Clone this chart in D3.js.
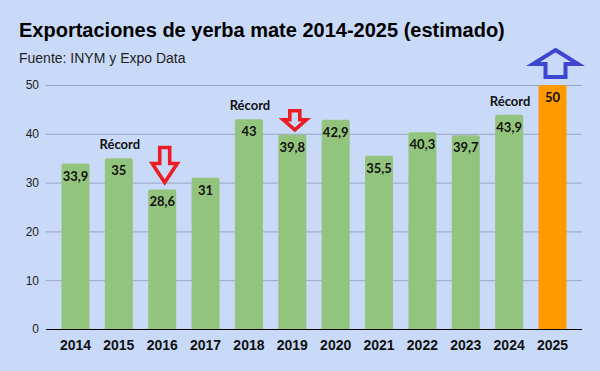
<!DOCTYPE html>
<html>
<head>
<meta charset="utf-8">
<script src="https://cdn.jsdelivr.net/npm/d3@7.9.0/dist/d3.min.js"></script>
<style>
  body { margin: 0; background: #c9daf8; }
  svg { display: block; }
</style>
</head>
<body>
<svg width="600" height="371"></svg>
<script>
const years = ["2014", "2015", "2016", "2017", "2018", "2019", "2020", "2021", "2022", "2023", "2024", "2025"];
const values = [33.9, 35, 28.6, 31, 43, 39.8, 42.9, 35.5, 40.3, 39.7, 43.9, 50];
const estimatedYears = ["2025"];
const recordYears = ["2015", "2018", "2024"];
const dropYears = ["2016", "2019"];
const riseYears = ["2025"];
const yTicks = [0, 10, 20, 30, 40, 50];

const data = years.map((year, i) => ({ year, value: values[i] }));

const svg = d3.select('svg');
const plotLeft = 46, plotRight = 582, plotTop = 85, plotBottom = 329;

svg.append('rect').attr('width', 600).attr('height', 371).attr('fill', '#c9daf8');

const x = d3.scaleBand().domain(years).range([plotLeft, plotRight])
  .paddingInner(0.354).paddingOuter(0.357);
const y = d3.scaleLinear().domain([0, 50]).range([plotBottom, plotTop]);

// title
svg.append('text')
  .attr('x', 19).attr('y', 37)
  .attr('font-family', 'Liberation Sans, Arial, sans-serif')
  .attr('font-size', 20).attr('font-weight', 'bold').attr('fill', '#000')
  .text('Exportaciones de yerba mate 2014-2025 (estimado)');

svg.append('text')
  .attr('x', 19).attr('y', 63)
  .attr('font-family', 'Liberation Sans, Arial, sans-serif')
  .attr('font-size', 14).attr('fill', '#222')
  .text('Fuente: INYM y Expo Data');

// grid + y labels
const yAxis = svg.append('g')
  .attr('transform', `translate(${plotLeft},0)`)
  .call(d3.axisLeft(y).tickValues(yTicks).tickSize(-(plotRight - plotLeft)).tickPadding(7));
yAxis.select('.domain').remove();
yAxis.selectAll('.tick line').attr('stroke', '#98a4c4');
yAxis.selectAll('.tick text')
  .attr('font-family', 'Liberation Sans, Arial, sans-serif')
  .attr('font-size', 12).attr('fill', '#222');

// bars
svg.append('g').selectAll('path')
  .data(data)
  .join('path')
  .attr('fill', d => estimatedYears.includes(d.year) ? '#ff9900' : '#93c47d')
  .attr('d', d => {
    const x0 = x(d.year), w = x.bandwidth(), y0 = y(d.value), r = 2;
    return `M${x0},${plotBottom}V${y0 + r}Q${x0},${y0} ${x0 + r},${y0}H${x0 + w - r}Q${x0 + w},${y0} ${x0 + w},${y0 + r}V${plotBottom}Z`;
  });

// baseline
svg.append('line')
  .attr('x1', plotLeft).attr('x2', plotRight)
  .attr('y1', plotBottom + 0.5).attr('y2', plotBottom + 0.5)
  .attr('stroke', '#000');

// x labels
svg.append('g').selectAll('text')
  .data(years)
  .join('text')
  .attr('x', d => x(d) + x.bandwidth() / 2)
  .attr('y', 350)
  .attr('text-anchor', 'middle')
  .attr('font-family', 'Liberation Sans, Arial, sans-serif')
  .attr('font-size', 14).attr('font-weight', 'bold').attr('fill', '#111')
  .text(d => d);

// value labels
svg.append('g').selectAll('text')
  .data(data)
  .join('text')
  .attr('x', d => x(d.year) + x.bandwidth() / 2)
  .attr('y', d => y(d.value) + 17)
  .attr('text-anchor', 'middle')
  .attr('font-family', 'Lato, sans-serif')
  .attr('font-size', 13).attr('font-weight', 'bold').attr('fill', '#111')
  .text(d => String(d.value).replace('.', ','));

// "Récord" labels
svg.append('g').selectAll('text')
  .data(data.filter(d => recordYears.includes(d.year)))
  .join('text')
  .attr('x', d => x(d.year) + x.bandwidth() / 2 + 1)
  .attr('y', d => y(d.value) - 9)
  .attr('text-anchor', 'middle')
  .attr('font-family', 'Lato, sans-serif')
  .attr('font-size', 13).attr('font-weight', 'bold').attr('fill', '#111')
  .text('Récord');

// block arrows: w = width, sw = shaft width, h = total height, hh = head height
function arrowPath(cx, yEnd, w, sw, h, hh, down) {
  if (down) {
    const t = yEnd - h, hb = yEnd - hh;
    return `M${cx - sw / 2},${t}H${cx + sw / 2}V${hb}H${cx + w / 2}L${cx},${yEnd}L${cx - w / 2},${hb}H${cx - sw / 2}Z`;
  }
  const t = yEnd - h, hb = t + hh;
  return `M${cx},${t}L${cx + w / 2},${hb}H${cx + sw / 2}V${yEnd}H${cx - sw / 2}V${hb}H${cx - w / 2}Z`;
}

const dropSize = { "2016": [25, 10, 35, 19, 7], "2019": [23, 10, 19, 10, 5] };
data.filter(d => dropYears.includes(d.year)).forEach(d => {
  const [w, sw, h, hh, gap] = dropSize[d.year];
  svg.append('path')
    .attr('d', arrowPath(x(d.year) + x.bandwidth() / 2 + 2.5, y(d.value) - gap, w, sw, h, hh, true))
    .attr('fill', '#c9daf8').attr('stroke', '#ec1c24')
    .attr('stroke-width', 3.6).attr('stroke-linejoin', 'miter');
});

data.filter(d => riseYears.includes(d.year)).forEach(d => {
  svg.append('path')
    .attr('d', arrowPath(x(d.year) + x.bandwidth() / 2 + 3, y(d.value) - 8, 45, 20, 27, 14, false))
    .attr('fill', '#c9daf8').attr('stroke', '#3c46cf')
    .attr('stroke-width', 4).attr('stroke-linejoin', 'miter');
});
</script>
</body>
</html>
